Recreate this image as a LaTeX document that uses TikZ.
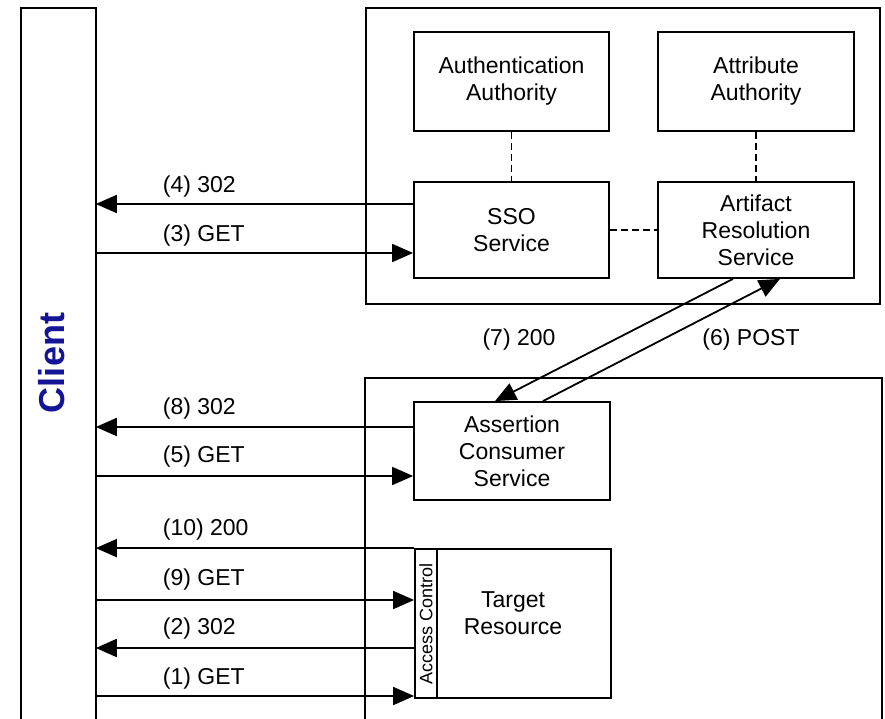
\documentclass[tikz,border=0pt]{standalone}
\usepackage{fontspec}
\setmainfont{Liberation Sans}
\usetikzlibrary{arrows.meta}
\definecolor{clientblue}{RGB}{20,20,150}
\begin{document}
\begin{tikzpicture}[x=1pt,y=-1pt,
  line width=1.8pt,
  txt/.style={font=\fontsize{23}{27}\selectfont},
  box/.style={draw, line width=1.8pt, inner sep=0pt, align=center, txt},
  arr/.style={-{Triangle[length=21pt,width=18pt]}, line width=1.8pt},
  dashedlink/.style={line width=1.6pt, dash pattern=on 7pt off 4pt},
  lbl/.style={txt, anchor=west, inner sep=0pt}]
\useasboundingbox (0,0) rectangle (885,719);

% Client lifeline (open at the bottom)
\node[minimum width=73pt, minimum height=711pt, inner sep=0pt, anchor=north west] (client) at (21,8) {};
\draw (client.south west) -- (client.north west) -- (client.north east) -- (client.south east);
\node[rotate=90, text=clientblue, font=\bfseries\fontsize{36}{40}\selectfont] (clientlbl) at (52,363) {Client};

% Identity provider container
\node[draw, minimum width=514pt, minimum height=296pt, inner sep=0pt, anchor=north west] (idp) at (365,7) {};
\node[box, minimum width=195pt, minimum height=99pt] (authA) at (511.5,81.5) {Authentication\\Authority};
\node[box, minimum width=196pt, minimum height=99pt] (attrA) at (756,81.5) {Attribute\\Authority};
\node[box, minimum width=195pt, minimum height=96pt] (sso) at (511.5,230) {SSO\\Service};
\node[box, minimum width=196pt, minimum height=96pt] (ars) at (756,230) {Artifact\\Resolution\\Service};
\draw[dashedlink] (authA) -- (sso);
\draw[dashedlink] (attrA) -- (ars);
\draw[dashedlink] (sso) -- (ars);

% Service provider container (open at the bottom)
\node[minimum width=515pt, minimum height=341pt, inner sep=0pt, anchor=north west] (sp) at (365,378) {};
\draw (sp.south west) -- (sp.north west) -- (sp.north east) -- (sp.south east);
\node[box, minimum width=196pt, minimum height=98pt] (acs) at (512,451) {Assertion\\Consumer\\Service};
\node[draw, line width=1.8pt, minimum width=196pt, minimum height=149pt, inner sep=0pt] (target) at (513,623.5) {};
\node[txt, align=center] (targetlbl) at (513,613) {Target\\Resource};
\node[draw, line width=1.8pt, minimum width=22pt, minimum height=149pt, inner sep=0pt] (ac) at (426,623.5) {};
\node[rotate=90, font=\fontsize{18}{20}\selectfont, inner sep=0pt] (aclbl) at (ac.center) {Access Control};

% Front-channel messages
\coordinate (y4) at (0,204);
\coordinate (y3) at (0,253);
\coordinate (y8) at (0,427);
\coordinate (y5) at (0,476);
\coordinate (y9) at (0,600);
\coordinate (y2) at (0,648);
\coordinate (y1) at (0,696);
\draw[arr] (sso.west |- y4) -- (client.east |- y4);
\draw[arr] (client.east |- y3) -- (sso.west |- y3);
\draw[arr] (acs.west |- y8) -- (client.east |- y8);
\draw[arr] (client.east |- y5) -- (acs.west |- y5);
\draw[arr] (ac.north west) -- (client.east |- ac.north west);
\draw[arr] (client.east |- y9) -- (ac.west |- y9);
\draw[arr] (ac.west |- y2) -- (client.east |- y2);
\draw[arr] (client.east |- y1) -- (ac.west |- y1);

\node[lbl] (l4) at (162,187) {(4) 302};
\node[lbl] (l3) at (162,236) {(3) GET};
\node[lbl] (l8) at (162,409) {(8) 302};
\node[lbl] (l5) at (162,457) {(5) GET};
\node[lbl] (l10) at (162,530) {(10) 200};
\node[lbl] (l9) at (162,580) {(9) GET};
\node[lbl] (l2) at (162,629) {(2) 302};
\node[lbl] (l1) at (162,679) {(1) GET};

% Back-channel artifact resolution
\draw[arr] ([xshift=-23pt]ars.south) -- ([xshift=-17pt]acs.north);
\draw[arr] ([xshift=31pt]acs.north) -- ([xshift=24pt]ars.south);
\node[txt] (l7) at (519,340) {(7) 200};
\node[txt] (l6) at (751,340) {(6) POST};
\end{tikzpicture}
\end{document}
